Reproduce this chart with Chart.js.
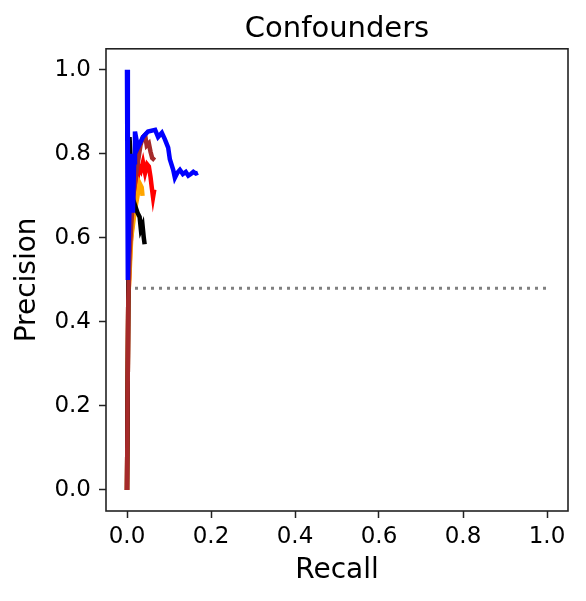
<!DOCTYPE html>
<html>
<head>
<meta charset="utf-8">
<script src="https://cdn.jsdelivr.net/npm/chart.js@4/dist/chart.umd.min.js"></script>
<style>
  body { margin: 0; background: #fff; }
  #wrap { width: 586px; height: 601px; }
</style>
</head>
<body>
<div id="wrap"><canvas id="prChart" width="586" height="601"></canvas></div>
<script>
// precision-recall curves, values
const blueRecall = [0, 0.002, 0.006, 0.009, 0.011, 0.014, 0.017, 0.019, 0.026, 0.038, 0.05, 0.067, 0.074, 0.083, 0.09, 0.098, 0.102, 0.11, 0.114, 0.12, 0.126, 0.133, 0.14, 0.146, 0.152, 0.158, 0.164, 0.169];
const bluePrecision = [1.0, 0.50, 0.68, 0.80, 0.72, 0.66, 0.78, 0.853, 0.815, 0.84, 0.853, 0.857, 0.84, 0.85, 0.835, 0.815, 0.787, 0.762, 0.743, 0.755, 0.762, 0.752, 0.757, 0.748, 0.752, 0.757, 0.753, 0.755];

const blackRecall = [0, 0.003, 0.006, 0.008, 0.011, 0.015, 0.02, 0.025, 0.03, 0.033, 0.037, 0.04, 0.042];
const blackPrecision = [0, 0.45, 0.84, 0.80, 0.72, 0.69, 0.675, 0.66, 0.65, 0.62, 0.63, 0.60, 0.585];

const redRecall = [0, 0.003, 0.008, 0.015, 0.02, 0.024, 0.028, 0.033, 0.038, 0.043, 0.048, 0.052, 0.056, 0.059, 0.062, 0.065];
const redPrecision = [0, 0.45, 0.58, 0.66, 0.70, 0.73, 0.77, 0.76, 0.78, 0.755, 0.775, 0.77, 0.745, 0.72, 0.697, 0.715];

const orangeRecall = [0, 0.003, 0.01, 0.018, 0.025, 0.03, 0.035, 0.037];
const orangePrecision = [0, 0.45, 0.60, 0.66, 0.70, 0.73, 0.72, 0.70];

const brownRecall = [0, 0.003, 0.006, 0.01, 0.015, 0.02, 0.026, 0.032, 0.038, 0.043, 0.047, 0.052, 0.056, 0.06, 0.066];
const brownPrecision = [0, 0.45, 0.56, 0.63, 0.70, 0.74, 0.78, 0.82, 0.84, 0.845, 0.82, 0.825, 0.805, 0.79, 0.785];

// baseline (share of positives)
const baselineRecall = [0, 1];
const baselinePrecision = [0.48, 0.48];

const tickValues = [0, 0.2, 0.4, 0.6, 0.8, 1.0];

function toPoints(xs, ys) {
    return xs.map((x, i) => ({ x: x, y: ys[i] }));
}

function curve(xs, ys, color) {
    return {
        data: toPoints(xs, ys),
        borderColor: color,
        backgroundColor: color,
        borderWidth: 4.5,
        pointRadius: 0,
        tension: 0,
        fill: false
    };
}

const frame = {
    id: 'frame',
    afterDatasetsDraw(chart) {
        const a = chart.chartArea;
        const ctx = chart.ctx;
        ctx.save();
        ctx.strokeStyle = '#222';
        ctx.lineWidth = 1.6;
        ctx.strokeRect(a.left, a.top, a.right - a.left, a.bottom - a.top);
        ctx.restore();
    }
};

const fontFamily = "'DejaVu Sans', sans-serif";

// first dataset ends up on top
new Chart(document.getElementById('prChart'), {
    type: 'line',
    data: {
        datasets: [
            curve(blueRecall, bluePrecision, '#0000ff'),
            curve(brownRecall, brownPrecision, '#a52a2a'),
            curve(blackRecall, blackPrecision, '#000000'),
            curve(orangeRecall, orangePrecision, '#ffa500'),
            curve(redRecall, redPrecision, '#ff0000'),
            Object.assign(curve(baselineRecall, baselinePrecision, '#808080'), {
                borderWidth: 3,
                borderDash: [3, 5]
            })
        ]
    },
    options: {
        responsive: false,
        animation: false,
        layout: { padding: { right: 18, left: 0, bottom: 0 } },
        plugins: {
            legend: { display: false },
            tooltip: { enabled: false },
            title: {
                display: true,
                text: 'Confounders',
                fullSize: false,
                color: '#000',
                font: { family: fontFamily, size: 29, weight: 'normal' },
                padding: { top: 12, bottom: 2 }
            }
        },
        scales: {
            x: {
                type: 'linear',
                min: -0.05,
                max: 1.05,
                afterBuildTicks: (scale) => { scale.ticks = tickValues.map(v => ({ value: v })); },
                afterFit: (scale) => { scale.height = 90; },
                grid: { drawOnChartArea: false, tickLength: 7, tickWidth: 1.5, tickColor: '#222' },
                border: { display: false },
                ticks: {
                    color: '#000',
                    padding: 5,
                    font: { family: fontFamily, size: 23 },
                    callback: (v) => v.toFixed(1)
                },
                title: {
                    display: true,
                    text: 'Recall',
                    color: '#000',
                    font: { family: fontFamily, size: 28 },
                    padding: { top: 0, bottom: 13 }
                }
            },
            y: {
                min: -0.05,
                max: 1.05,
                afterBuildTicks: (scale) => { scale.ticks = tickValues.map(v => ({ value: v })); },
                afterFit: (scale) => { scale.width = 106; },
                grid: { drawOnChartArea: false, tickLength: 7, tickWidth: 1.5, tickColor: '#222' },
                border: { display: false },
                ticks: {
                    color: '#000',
                    padding: 8,
                    font: { family: fontFamily, size: 23 },
                    callback: (v) => v.toFixed(1)
                },
                title: {
                    display: true,
                    text: 'Precision',
                    color: '#000',
                    font: { family: fontFamily, size: 28 },
                    padding: { top: 11, bottom: 0 }
                }
            }
        }
    },
    plugins: [frame]
});
</script>
</body>
</html>
